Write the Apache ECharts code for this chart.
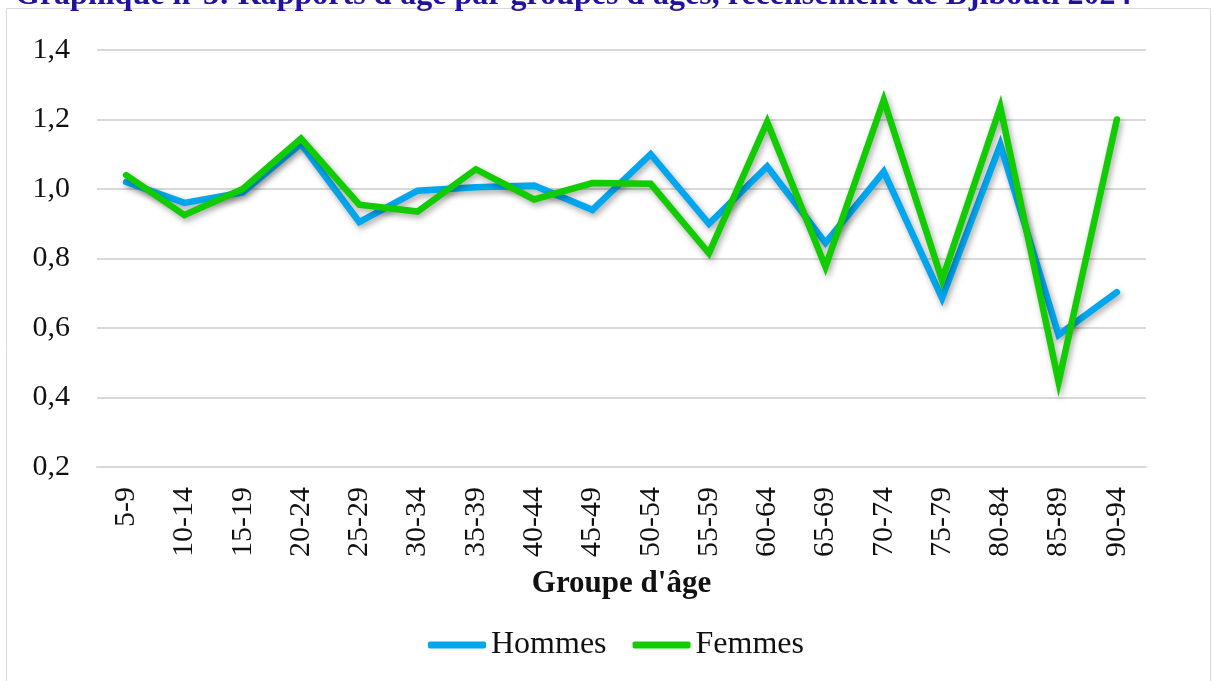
<!DOCTYPE html>
<html>
<head>
<meta charset="utf-8">
<script src="https://cdn.jsdelivr.net/npm/echarts@6/dist/echarts.min.js"></script>
<style>
  html, body { margin: 0; padding: 0; background: #fff; }
  #chart { width: 1213px; height: 681px; }
</style>
</head>
<body>
<div id="chart"></div>
<script>
const ageGroups = ["5-9", "10-14", "15-19", "20-24", "25-29", "30-34", "35-39", "40-44", "45-49",
  "50-54", "55-59", "60-64", "65-69", "70-74", "75-79", "80-84", "85-89", "90-94"];
const hommes = [1.02, 0.96, 0.99, 1.13, 0.905, 0.995, 1.005, 1.01, 0.94,
  1.10, 0.90, 1.065, 0.845, 1.05, 0.686, 1.127, 0.58, 0.703];
const femmes = [1.04, 0.925, 1.0, 1.145, 0.955, 0.935, 1.057, 0.97, 1.017,
  1.015, 0.815, 1.193, 0.776, 1.256, 0.738, 1.236, 0.445, 1.20];

const serif = "'Liberation Serif', 'Times New Roman', serif";

const chart = echarts.init(document.getElementById("chart"));

function lineSeries(name, data, color) {
  return {
    name: name,
    type: "line",
    data: data,
    symbol: "none",
    lineStyle: {
      width: 6.5,
      color: color,
      cap: "round",
      join: "miter",
      shadowBlur: 6,
      shadowColor: "rgba(0,0,0,0.35)",
      shadowOffsetX: 2,
      shadowOffsetY: 3,
    },
    itemStyle: { color: color },
  };
}

chart.setOption({
  animation: false,
  title: {
    text: "Graphique n°3: Rapports d'âge par groupes d'âges, recensement de Djibouti 2024",
    left: 10,
    top: -25,
    textStyle: { fontFamily: serif, fontWeight: "bold", fontSize: 32, color: "#2212A0" },
  },
  graphic: [
    {
      type: "rect",
      shape: { x: 6.5, y: 8.5, width: 1204, height: 700 },
      style: { fill: "none", stroke: "#d9d9d9", lineWidth: 1 },
      silent: true,
    },
  ],
  grid: { left: 97, right: 67, top: 50, bottom: 214 },
  legend: {
    bottom: 15,
    left: 423,
    icon: "roundRect",
    itemWidth: 58,
    itemHeight: 7,
    itemGap: 26,
    textStyle: { fontFamily: serif, fontSize: 32, color: "#111" },
    data: ["Hommes", "Femmes"],
  },
  xAxis: {
    type: "category",
    data: ageGroups,
    boundaryGap: true,
    axisLine: { lineStyle: { color: "#d9d9d9", width: 2 } },
    axisTick: { show: false },
    axisLabel: { rotate: 90, margin: 20, fontFamily: serif, fontSize: 30, color: "#111", interval: 0 },
    name: "Groupe d'âge",
    nameLocation: "middle",
    nameGap: 101,
    nameTextStyle: { fontFamily: serif, fontSize: 31, fontWeight: "bold", color: "#111" },
  },
  yAxis: {
    type: "value",
    min: 0.2,
    max: 1.4,
    interval: 0.2,
    axisLine: { show: false },
    axisTick: { show: false },
    splitLine: { lineStyle: { color: "#d9d9d9", width: 2 } },
    axisLabel: {
      margin: 27,
      fontFamily: serif,
      fontSize: 30,
      color: "#111",
      formatter: (v) => v.toFixed(1).replace(".", ","),
    },
  },
  series: [
    lineSeries("Hommes", hommes, "#00A6EE"),
    lineSeries("Femmes", femmes, "#11CC00"),
  ],
});
</script>
</body>
</html>
